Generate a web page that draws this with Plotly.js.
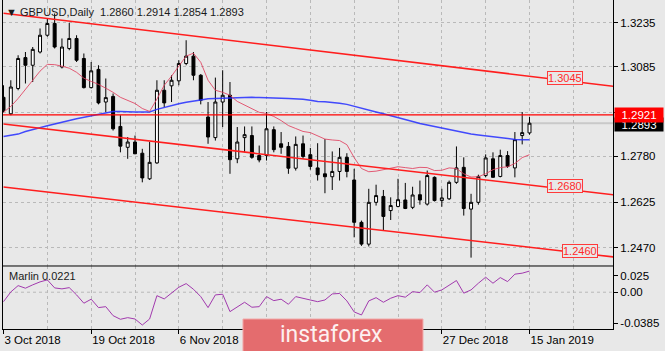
<!DOCTYPE html>
<html><head><meta charset="utf-8">
<script src="https://cdn.plot.ly/plotly-3.0.1.min.js"></script>
<style>html,body{margin:0;padding:0;background:#e8e8e8;}#chart{width:665px;height:351px;}</style>
</head><body><div id="chart"></div>
<script>
// ---- data (GBPUSD daily) ----
const dates = ['2018-10-03','2018-10-04','2018-10-05','2018-10-08','2018-10-09','2018-10-10','2018-10-11','2018-10-12','2018-10-15','2018-10-16',
'2018-10-17','2018-10-18','2018-10-19','2018-10-22','2018-10-23','2018-10-24','2018-10-25','2018-10-26','2018-10-29','2018-10-30',
'2018-10-31','2018-11-01','2018-11-02','2018-11-05','2018-11-06','2018-11-07','2018-11-08','2018-11-09','2018-11-12','2018-11-13',
'2018-11-14','2018-11-15','2018-11-16','2018-11-19','2018-11-20','2018-11-21','2018-11-22','2018-11-23','2018-11-26','2018-11-27',
'2018-11-28','2018-11-29','2018-11-30','2018-12-03','2018-12-04','2018-12-05','2018-12-06','2018-12-07','2018-12-10','2018-12-11',
'2018-12-12','2018-12-13','2018-12-14','2018-12-17','2018-12-18','2018-12-19','2018-12-20','2018-12-21','2018-12-24','2018-12-26',
'2018-12-27','2018-12-28','2018-12-31','2019-01-02','2019-01-03','2019-01-04','2019-01-07','2019-01-08','2019-01-09','2019-01-10',
'2019-01-11','2019-01-14','2019-01-15'];
const open = [1.2981,1.2925,1.3011,1.3116,1.3090,1.3135,1.3192,1.3232,1.3084,1.3147,
1.3181,1.3113,1.3014,1.3076,1.2965,1.2984,1.2882,1.2811,1.2829,1.2791,
1.2704,1.2758,1.3005,1.3020,1.3037,1.3096,1.3121,1.3056,1.2914,1.2844,
1.2965,1.2988,1.2772,1.2844,1.2851,1.2783,1.2783,1.2871,1.2823,1.2814,
1.2740,1.2823,1.2786,1.2741,1.2721,1.2711,1.2729,1.2777,1.2700,1.2556,
1.2482,1.2624,1.2644,1.2596,1.2610,1.2632,1.2607,1.2650,1.2618,1.2709,
1.2630,1.2636,1.2692,1.2743,1.2601,1.2624,1.2715,1.2772,1.2712,1.2783,
1.2741,1.2851,1.2860];
const high = [1.3022,1.3039,1.3124,1.3135,1.3152,1.3215,1.3249,1.3266,1.3181,1.3234,
1.3192,1.3130,1.3101,1.3090,1.3045,1.2994,1.2920,1.2846,1.2851,1.2806,
1.2829,1.3039,1.3039,1.3056,1.3107,1.3175,1.3135,1.3060,1.2965,1.3048,
1.3073,1.3033,1.2880,1.2882,1.2882,1.2817,1.2931,1.2882,1.2863,1.2829,
1.2848,1.2851,1.2809,1.2825,1.2839,1.2797,1.2809,1.2791,1.2738,1.2562,
1.2670,1.2684,1.2666,1.2641,1.2704,1.2690,1.2677,1.2698,1.2732,1.2712,
1.2670,1.2698,1.2814,1.2777,1.2653,1.2718,1.2787,1.2794,1.2803,1.2798,
1.2863,1.2931,1.2914];
const low = [1.2930,1.2920,1.3005,1.3028,1.3033,1.3130,1.3187,1.3147,1.3079,1.3141,
1.3101,1.3011,1.3011,1.2957,1.2931,1.2868,1.2794,1.2772,1.2788,1.2692,
1.2700,1.2755,1.2948,1.2965,1.3022,1.3090,1.3039,1.2957,1.2823,1.2834,
1.2880,1.2721,1.2757,1.2794,1.2772,1.2760,1.2766,1.2794,1.2789,1.2721,
1.2732,1.2772,1.2735,1.2698,1.2655,1.2666,1.2698,1.2709,1.2505,1.2476,
1.2474,1.2613,1.2527,1.2564,1.2607,1.2601,1.2601,1.2616,1.2613,1.2627,
1.2609,1.2632,1.2687,1.2579,1.2436,1.2616,1.2709,1.2709,1.2709,1.2741,
1.2709,1.2821,1.2854];
const close = [1.2937,1.3016,1.3113,1.3090,1.3144,1.3192,1.3232,1.3152,1.3152,1.3181,
1.3107,1.3014,1.3071,1.2962,1.2980,1.2874,1.2815,1.2829,1.2789,1.2707,
1.2760,1.3005,1.2962,1.3039,1.3096,1.3121,1.3056,1.2971,1.2846,1.2965,
1.2988,1.2769,1.2829,1.2854,1.2777,1.2768,1.2874,1.2803,1.2811,1.2740,
1.2821,1.2780,1.2746,1.2718,1.2711,1.2729,1.2777,1.2729,1.2556,1.2482,
1.2624,1.2647,1.2576,1.2613,1.2633,1.2603,1.2649,1.2632,1.2715,1.2630,
1.2639,1.2692,1.2741,1.2603,1.2624,1.2712,1.2775,1.2709,1.2783,1.2746,
1.2837,1.2861,1.2893];
const maFast = [1.2930,1.2950,1.2977,1.3008,1.3039,1.3070,1.3093,1.3092,1.3087,1.3080,
1.3066,1.3046,1.3035,1.3025,1.3012,1.2998,1.2981,1.2971,1.2960,1.2943,
1.2933,1.2975,1.3022,1.3053,1.3087,1.3121,1.3131,1.3100,1.3039,1.3005,
1.2998,1.2988,1.2967,1.2954,1.2943,1.2930,1.2926,1.2916,1.2902,1.2885,
1.2875,1.2865,1.2861,1.2851,1.2839,1.2836,1.2834,1.2820,1.2776,1.2739,
1.2728,1.2730,1.2735,1.2740,1.2745,1.2742,1.2739,1.2743,1.2742,1.2732,
1.2733,1.2741,1.2739,1.2721,1.2710,1.2711,1.2721,1.2735,1.2742,1.2745,
1.2756,1.2776,1.2786];
const maSlow = [1.2848,1.2851,1.2856,1.2865,1.2872,1.2877,1.2884,1.2890,1.2897,1.2902,
1.2908,1.2913,1.2918,1.2925,1.2930,1.2933,1.2933,1.2931,1.2931,1.2931,
1.2931,1.2940,1.2947,1.2954,1.2959,1.2964,1.2969,1.2972,1.2976,1.2977,
1.2979,1.2980,1.2981,1.2981,1.2981,1.2980,1.2980,1.2979,1.2978,1.2977,
1.2976,1.2974,1.2971,1.2967,1.2966,1.2964,1.2961,1.2957,1.2950,1.2943,
1.2937,1.2931,1.2925,1.2919,1.2913,1.2906,1.2899,1.2892,1.2887,1.2880,
1.2875,1.2870,1.2865,1.2860,1.2856,1.2853,1.2850,1.2846,1.2843,1.2839,
1.2838,1.2837,1.2837];
const marlin = [-0.0099,0.0003,0.0069,0.0042,0.0077,0.0108,0.0129,0.0045,0.0035,0.0048,
-0.0028,-0.0115,-0.0073,-0.0161,-0.0151,-0.0245,-0.0283,-0.0266,-0.0280,-0.0343,
-0.0280,-0.0036,-0.0070,-0.0010,0.0052,0.0090,0.0031,-0.0046,-0.0161,-0.0028,
-0.0021,-0.0203,-0.0151,-0.0105,-0.0157,-0.0151,-0.0046,-0.0088,-0.0073,-0.0126,
-0.0046,-0.0063,-0.0088,-0.0099,-0.0081,-0.0018,-0.0013,-0.0091,-0.0206,-0.0238,
-0.0091,-0.0057,-0.0105,-0.0063,-0.0036,-0.0052,0.0006,-0.0004,0.0077,0.0000,
0.0024,0.0077,0.0122,-0.0010,0.0024,0.0094,0.0157,0.0094,0.0153,0.0111,
0.0189,0.0199,0.0221];
// drawn objects (bar index span and price at each end)
const channelSpan = [0, 84];
const channelUpper = [1.3267, 1.3017];
const channelMiddle = [1.2890, 1.2648];
const channelLower = [1.2676, 1.2437];
const resistanceLevel = 1.2921;
const bidPrice = 1.2893;
const channelLabels = ['1.3045', '1.2680', '1.2460'];
// axis ticks (1.2931 label sits under the price box, only its grid line shows)
const priceTickVals = [1.3235, 1.3085, 1.2931, 1.2780, 1.2625, 1.2470];
const priceTickText = ['1.3235', '1.3085', '', '1.2780', '1.2625', '1.2470'];
const dateTickDates = ['2018-10-03','2018-10-19','2018-11-06','2018-12-27','2019-01-15'];
const dateTickText = ['3 Oct 2018','19 Oct 2018','6 Nov 2018','27 Dec 2018','15 Jan 2019'];
const marlinTickText = ['0.025', '0.00', '-0.0385'];

// ---- build ----
const idx = dates.map((d, i) => i);
const last = dates.length - 1;
const FONT = 'Liberation Sans, Arial, sans-serif';
const GRID = '#b9b9b9';
const BG = '#e8e8e8';

const traces = [
  {type:'candlestick', x: idx, open, high, low, close, xaxis:'x', yaxis:'y',
   increasing:{line:{color:'#000', width:1}, fillcolor:'#ffffff'},
   decreasing:{line:{color:'#000', width:1}, fillcolor:'#000000'},
   whiskerwidth: 0, hoverinfo:'skip', showlegend:false},
  {type:'scatter', mode:'lines', x: idx, y: maSlow, line:{color:'rgba(35,45,255,0.85)', width:1.5}, hoverinfo:'skip'},
  {type:'scatter', mode:'lines', x: idx, y: maFast, line:{color:'rgba(225,65,95,0.85)', width:1}, hoverinfo:'skip'},
  {type:'scatter', mode:'lines', x: channelSpan, y: channelUpper, line:{color:'#ff1e1e', width:1.5}, hoverinfo:'skip'},
  {type:'scatter', mode:'lines', x: channelSpan, y: channelMiddle, line:{color:'#ff1e1e', width:1.5}, hoverinfo:'skip'},
  {type:'scatter', mode:'lines', x: channelSpan, y: channelLower, line:{color:'#ff1e1e', width:1.5}, hoverinfo:'skip'},
  {type:'scatter', mode:'lines', x: idx, y: marlin, xaxis:'x', yaxis:'y2', line:{color:'#a23aae', width:1}, hoverinfo:'skip'}
];

const labelFont = {family: FONT, size: 11, color: '#ff2a2a'};
const layout = {
  width: 665, height: 351,
  paper_bgcolor: BG, plot_bgcolor: BG,
  margin: {l: 3, r: 52, t: 0, b: 22},
  showlegend: false, hovermode: false,
  boxgap: 0.42,
  xaxis: {
    anchor: 'y2', range: [-0.07, 83.43],
    tickmode: 'array', tickvals: dateTickDates.map(d => dates.indexOf(d)), ticktext: dateTickText,
    ticks: 'outside', ticklen: 4, tickcolor: '#000', ticklabelposition: 'outside right',
    tickfont: {family: FONT, size: 11.5, color: '#000'},
    showgrid: true, gridcolor: GRID, griddash: '3px,3px', gridwidth: 1,
    minor: {tickmode: 'linear', tick0: 0, dtick: 6, showgrid: true, gridcolor: GRID, griddash: '3px,3px', ticks: ''},
    showline: true, linecolor: '#000', linewidth: 1, zeroline: false,
    rangeslider: {visible: false}, fixedrange: true
  },
  yaxis: {
    domain: [0.1915, 1], range: [1.24076, 1.33118], side: 'right', anchor: 'x',
    tickmode: 'array', tickvals: priceTickVals, ticktext: priceTickText,
    ticks: 'outside', ticklen: 4, tickcolor: '#000',
    tickfont: {family: FONT, size: 11.5, color: '#000'},
    showgrid: true, gridcolor: GRID, griddash: '3px,3px', gridwidth: 1,
    showline: true, mirror: true, linecolor: '#000', linewidth: 1, zeroline: false
  },
  yaxis2: {
    domain: [0, 0.1915], range: [-0.03847, 0.02742], side: 'right', anchor: 'x',
    tickmode: 'array', tickvals: [0.0174, 0, -0.0325], ticktext: marlinTickText,
    ticks: 'outside', ticklen: 4, tickcolor: '#000',
    tickfont: {family: FONT, size: 11.5, color: '#000'},
    showgrid: false, showline: true, mirror: true, linecolor: '#000', linewidth: 1, zeroline: false
  },
  shapes: [
    {type:'line', xref:'paper', x0:0, x1:1, yref:'y', y0: bidPrice, y1: bidPrice, line:{color:'#c9c9c9', width:2}, layer:'below'},
    {type:'line', xref:'paper', x0:0, x1:1, yref:'y', y0: resistanceLevel, y1: resistanceLevel, line:{color:'#ff0000', width:1.3}},
    {type:'line', xref:'paper', x0:0, x1:1, yref:'y2', y0: 0, y1: 0, line:{color:GRID, width:1, dash:'3px,3px'}, layer:'below'},
    {type:'line', xref:'paper', x0:0, x1:1, yref:'y domain', y0: 0, y1: 0, line:{color:'#000', width:1}},
    {type:'rect', xref:'paper', yref:'paper', x0: 0.3934, x1: 0.6885, y0: -0.075, y1: 0.0304,
     fillcolor:'#e46c6e', line:{color:'#f2abab', width:1}, layer:'above'}
  ],
  annotations: [
    {xref:'paper', yref:'paper', x: 0.001, y: 0.9635, xanchor:'left', yanchor:'middle', showarrow:false,
     text: '▼\u00a0GBPUSD,Daily\u00a0\u00a0' + [open[last], high[last], low[last], close[last]].map(v => v.toFixed(4)).join(' '),
     font:{family: FONT, size: 11, color:'#1a1a1a'}},
    {xref:'paper', yref:'y2 domain', x: 0.006, y: 0.84, xanchor:'left', yanchor:'middle', showarrow:false,
     text: 'Marlin ' + marlin[last].toFixed(4), font:{family: FONT, size: 11, color:'#1a1a1a'}},
    {xref:'x', yref:'y', x: 76.9, y: Number(channelLabels[0]), text: channelLabels[0], showarrow:false,
     bordercolor:'#ff3a3a', borderwidth:1, borderpad:0, bgcolor: BG, font: labelFont},
    {xref:'x', yref:'y', x: 76.9, y: Number(channelLabels[1]), text: channelLabels[1], showarrow:false,
     bordercolor:'#ff3a3a', borderwidth:1, borderpad:0, bgcolor: BG, font: labelFont},
    {xref:'x', yref:'y', x: 78.9, y: Number(channelLabels[2]), text: channelLabels[2], showarrow:false,
     bordercolor:'#ff3a3a', borderwidth:1, borderpad:0, bgcolor: BG, font: labelFont},
    {xref:'paper', yref:'y', x: 1, xshift: 1, y: bidPrice, yshift: -1, xanchor:'left', yanchor:'middle', showarrow:false,
     text: bidPrice.toFixed(4), width: 46, height: 11, bgcolor:'#000', font:{family: FONT, size: 11.5, color:'#fff'}},
    {xref:'paper', yref:'y', x: 1, xshift: 1, y: resistanceLevel, xanchor:'left', yanchor:'middle', showarrow:false,
     text: resistanceLevel.toFixed(4), width: 46, height: 12, bgcolor:'#ff0000', font:{family: FONT, size: 11.5, color:'#fff'}},
    {xref:'paper', yref:'paper', x: 0.5393, y: -0.018, xanchor:'center', yanchor:'middle', showarrow:false,
     text: 'instaforex', font:{family: 'Liberation Sans Narrow, Roboto, sans-serif', size: 23, color:'#fdf0f0'}}
  ]
};

Plotly.newPlot('chart', traces, layout, {staticPlot: true, displayModeBar: false});
</script>
</body></html>
